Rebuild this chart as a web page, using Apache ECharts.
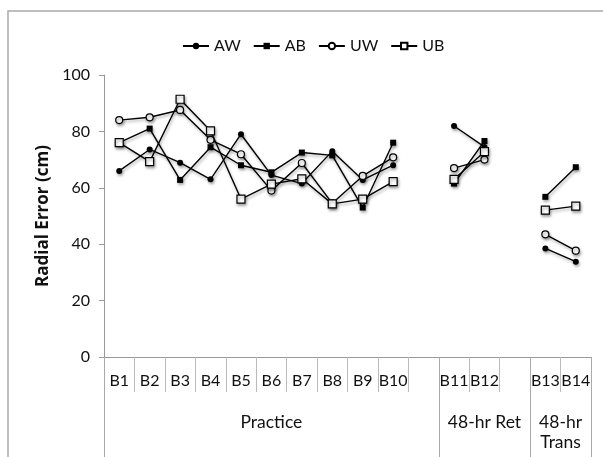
<!DOCTYPE html>
<html>
<head>
<meta charset="utf-8">
<script src="https://cdn.jsdelivr.net/npm/echarts@6/dist/echarts.min.js"></script>
<style>
  html, body { margin: 0; padding: 0; background: #fff; }
  #chart { width: 603px; height: 457px; }
</style>
</head>
<body>
<div id="chart"></div>
<script>
// blocks (empty strings are the spacer slots between phases)
const blocks = ['B1', 'B2', 'B3', 'B4', 'B5', 'B6', 'B7', 'B8', 'B9', 'B10', '', 'B11', 'B12', '', 'B13', 'B14'];
const aw = [66, 73.6, 68.9, 63, 79, 64.5, 61.5, 73, 62.8, 68, null, 81.9, 74.5, null, 38.5, 33.8];
const ab = [76, 81, 62.8, 74.4, 68, 65.5, 72.5, 71.5, 53, 76, null, 61.5, 76.6, null, 56.8, 67.3];
const uw = [84, 85, 87.6, 77, 71.9, 59, 68.8, 54.5, 64.2, 70.8, null, 67, 70, null, 43.5, 37.7];
const ub = [76, 69.3, 91.4, 80.2, 56, 61.3, 63.2, 54.3, 56, 62.2, null, 63, 72.8, null, 52.1, 53.5];
// phase labels on a half-slot scale (0..32)
const phaseSlots = 32;
const phaseLabels = {11: 'Practice', 25: '48-hr Ret', 30: '48-hr\nTrans'};
const phaseDividers = [0, 22, 28, 32];

const FONT = 'Lato, "Open Sans", sans-serif';
const phaseData = [];
for (let i = 0; i <= phaseSlots; i++) phaseData.push(phaseLabels[i] || '');

const chart = echarts.init(document.getElementById('chart'), null, {renderer: 'canvas'});

const shadow = {shadowColor: 'rgba(0,0,0,0.35)', shadowBlur: 3, shadowOffsetX: 1, shadowOffsetY: 2};

function mkSeries(name, data, symbol, size, open) {
  return {
    name: name,
    type: 'line',
    data: data,
    symbol: symbol,
    symbolSize: size,
    showAllSymbol: true,
    connectNulls: false,
    lineStyle: Object.assign({color: '#000', width: 1.4}, shadow),
    itemStyle: Object.assign(open
      ? {color: '#fff', borderColor: '#000', borderWidth: 1.2}
      : {color: '#000', borderColor: '#000', borderWidth: 0}, shadow),
    emphasis: {disabled: true},
    animation: false
  };
}

const option = {
  textStyle: {fontFamily: FONT},
  graphic: [{
    type: 'rect',
    shape: {x: 8, y: 11, width: 620, height: 480},
    style: {fill: 'none', stroke: '#aaa', lineWidth: 1.5},
    silent: true
  }],
  legend: {
    top: 33,
    left: 177,
    itemWidth: 26,
    itemHeight: 8,
    itemGap: 12,
    textStyle: {fontSize: 16, color: '#111', fontFamily: FONT},
    data: ['AW', 'AB', 'UW', 'UB']
  },
  grid: {left: 104, right: 12, top: 75, bottom: 100, containLabel: false},
  xAxis: [
    {
      type: 'category',
      data: blocks,
      boundaryGap: true,
      axisLine: {lineStyle: {color: '#999', width: 1}},
      axisTick: {show: true, interval: 0, length: 35, lineStyle: {color: '#bbb'}},
      axisLabel: {interval: 0, margin: 16, fontSize: 16, color: '#111', fontFamily: FONT}
    },
    {
      type: 'category',
      data: phaseData,
      boundaryGap: false,
      position: 'bottom',
      axisLine: {show: false},
      axisTick: {
        show: true,
        length: 100,
        interval: function (idx) { return phaseDividers.indexOf(idx) >= 0; },
        lineStyle: {color: '#aaa'}
      },
      axisLabel: {interval: 0, margin: 55, fontSize: 17.5, lineHeight: 20, color: '#111', fontFamily: FONT}
    }
  ],
  yAxis: {
    type: 'value',
    min: 0,
    max: 100,
    interval: 20,
    name: 'Radial Error (cm)',
    nameLocation: 'middle',
    nameGap: 49,
    nameTextStyle: {fontSize: 17, fontWeight: 'bold', color: '#111', fontFamily: '"Open Sans", sans-serif'},
    axisLine: {show: true, lineStyle: {color: '#999'}},
    axisTick: {show: true, length: 5, lineStyle: {color: '#999'}},
    axisLabel: {margin: 14, fontSize: 16, color: '#111', fontFamily: FONT},
    splitLine: {show: false}
  },
  series: [
    mkSeries('AW', aw, 'circle', 6, false),
    mkSeries('AB', ab, 'rect', 6, false),
    mkSeries('UW', uw, 'circle', 7, true),
    mkSeries('UB', ub, 'rect', 8, true)
  ]
};

chart.setOption(option);
</script>
</body>
</html>
